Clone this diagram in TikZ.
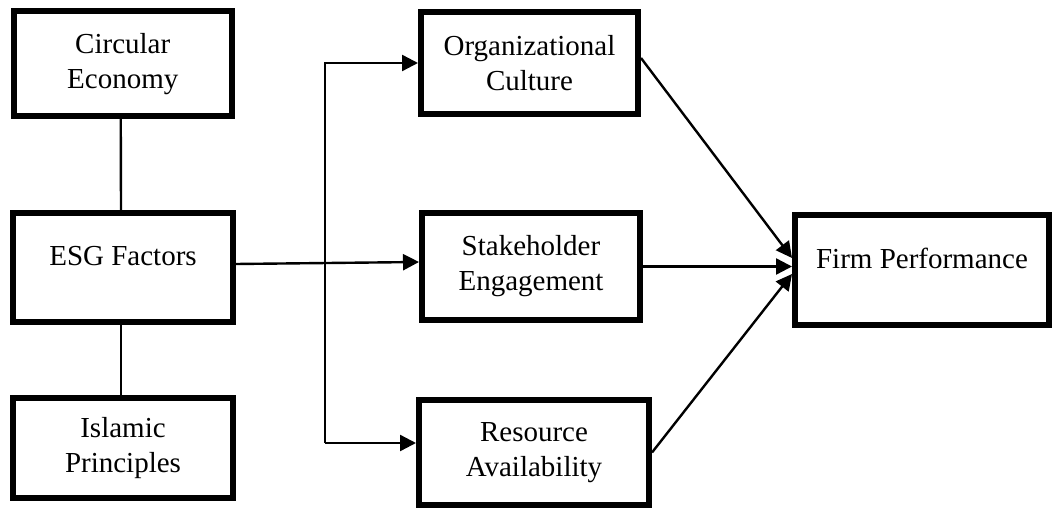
\documentclass[tikz,border=0pt]{standalone}
\usepackage{fontspec}
\setmainfont{Liberation Serif}
\usetikzlibrary{arrows.meta}
\tikzset{
  box/.style={draw=black,line width=6pt,inner sep=0pt,align=center,
    font=\fontsize{29}{35}\selectfont},
  oneline/.style={text depth=24pt},
  arr/.style={color=black,line width=2.4pt,-{Triangle[length=16pt,width=16pt]}},
  link/.style={color=black,line width=2.4pt}
}
\begin{document}
\begin{tikzpicture}[x=1pt,y=-1pt]
\useasboundingbox (0,0) rectangle (1054,510);

% left column
\node[box,minimum width=218.5pt,minimum height=104.5pt] (circ) at (122.75,63.75) {Circular\\Economy};
\node[box,oneline,minimum width=220pt,minimum height=109pt] (esg) at (123,267.5) {ESG Factors};
\node[box,minimum width=220pt,minimum height=100pt] (isl) at (123,448) {Islamic\\Principles};

% middle column
\node[box,minimum width=217pt,minimum height=102pt] (org) at (529.5,63) {Organizational\\Culture};
\node[box,minimum width=218pt,minimum height=107pt] (stake) at (531,266.5) {Stakeholder\\Engagement};
\node[box,minimum width=230pt,minimum height=105pt] (res) at (534,452.5) {Resource\\Availability};

% outcome
\node[box,oneline,minimum width=254pt,minimum height=110pt] (firm) at (922,270) {Firm Performance};

\coordinate (bot) at (325,443);

\draw[link] ([xshift=-2pt]circ.south) -- ([xshift=-2pt]esg.north);
\draw[link] ([xshift=-2pt]esg.south) -- ([xshift=-2pt]isl.north);

\draw[arr] ([yshift=3.5pt]esg.east) -- ([yshift=4.5pt]stake.west);
\draw[arr] (bot) |- (org.west);
\draw[arr] (bot) -- (bot -| res.west);

\draw[arr] ([yshift=5pt]org.east) -- ([yshift=12pt]firm.west);
\draw[arr] (stake.east) -- (stake.east -| firm.west);
\draw[arr] (res.east) -- ([yshift=-4pt]firm.west);
\end{tikzpicture}
\end{document}
